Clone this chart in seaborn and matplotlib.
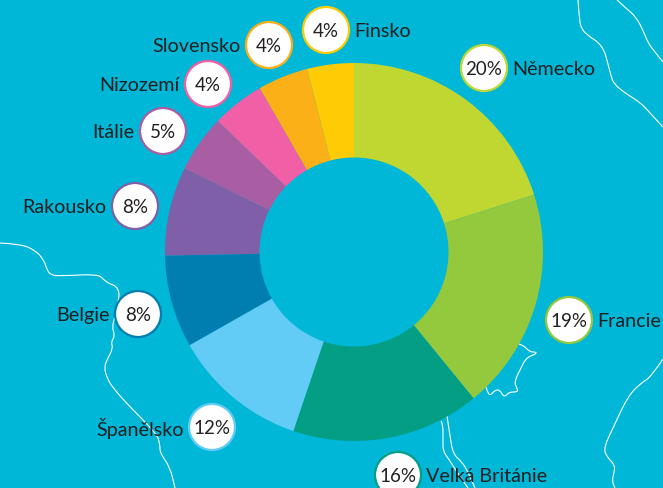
# plot.py - podil zemi, donut na mape
import matplotlib
matplotlib.use("Agg")
import matplotlib.pyplot as plt
from matplotlib.patches import PathPatch
from matplotlib.path import Path
import seaborn as sns

zeme = ["Německo", "Francie", "Velká Británie", "Španělsko", "Belgie",
        "Rakousko", "Itálie", "Nizozemí", "Slovensko", "Finsko"]
podil = [20.1, 19.0, 16.1, 11.6, 7.9, 7.6, 4.9, 4.5, 4.3, 4.0]
popisky = ["20%", "19%", "16%", "12%", "8%", "8%", "5%", "4%", "4%", "4%"]
barvy = ["#BFD730", "#94C83D", "#049E85", "#62CBF6", "#007EB0",
         "#7F5FA8", "#A95DA3", "#F15FA6", "#FBB017", "#FFCB05"]

# layout in pixels of the 663x488 picture (y from the top)
BG = "#00B7D7"
cx, cy, radius = 354, 252, 189
badge_x = [484, 569, 398, 212, 138, 135, 163, 208, 269, 326]
badge_y = [68, 320, 475, 427, 314, 206, 131, 84, 45, 30]
side = [1, 1, 1, -1, -1, -1, -1, -1, -1, 1]

# background map outlines, decoration only
hranice = [
    [(578, 0), (579, 15), (581, 29), (590, 37), (598, 42), (604, 50), (607, 60),
     (611, 76), (614, 84), (625, 93), (641, 103), (650, 113), (663, 127)],
    [(617, 0), (627, 9), (636, 17), (643, 30), (648, 43), (655, 52), (663, 62)],
    [(0, 243), (20, 244), (35, 250), (44, 260), (47, 270), (51, 275), (60, 276), (98, 274),
     (104, 280), (110, 284), (116, 286), (119, 292), (119, 297), (115, 317), (112, 327),
     (115, 336), (111, 342), (113, 348), (108, 358), (104, 367), (107, 378), (113, 388),
     (130, 407), (157, 434), (160, 445), (160, 453), (170, 467), (175, 488)],
    [(486, 387), (488, 394), (491, 395), (495, 390), (500, 390), (503, 396), (506, 396),
     (509, 392), (518, 392), (517, 388), (514, 382), (522, 366), (525, 360), (530, 356),
     (536, 354), (536, 352), (530, 352), (524, 346), (519, 344)],
    [(441, 421), (443, 424), (443, 440), (443, 451), (448, 458), (457, 472), (468, 488)],
    [(447, 416), (450, 436), (453, 454), (462, 462), (468, 472), (475, 488)],
    [(663, 359), (651, 377), (641, 383), (628, 396), (613, 428), (604, 447), (606, 456),
     (615, 465), (614, 473), (612, 481), (615, 488)],
]


def hladka_cesta(linie):
    # vertices act as control points, midpoints as nodes: rounds the corners
    body = [(x, 488 - y) for x, y in linie]
    verts, codes = [body[0]], [Path.MOVETO]
    for a, b in zip(body[1:-1], body[2:]):
        verts += [a, ((a[0] + b[0]) / 2, (a[1] + b[1]) / 2)]
        codes += [Path.CURVE3, Path.CURVE3]
    verts.append(body[-1])
    codes.append(Path.LINETO)
    return Path(verts, codes)


sns.set_theme(style="white")
plt.rcParams["font.family"] = ["Lato", "DejaVu Sans"]

fig = plt.figure(figsize=(6.63, 4.88), dpi=100, facecolor=BG)
ax = fig.add_axes([0, 0, 1, 1], facecolor=BG)

for linie in hranice:
    ax.add_patch(PathPatch(hladka_cesta(linie), fill=False, edgecolor="white",
                           lw=0.8, zorder=1))

ax.pie(podil, colors=barvy, startangle=90, counterclock=False,
       center=(cx, 488 - cy), radius=radius, frame=True,
       wedgeprops=dict(width=radius * 0.5, linewidth=0))

sns.scatterplot(x=badge_x, y=[488 - y for y in badge_y], s=1097, color="white",
                edgecolor=barvy, linewidth=1.6, legend=False, ax=ax, zorder=4)

for i, nazev in enumerate(zeme):
    ax.text(badge_x[i], 488 - badge_y[i], popisky[i], ha="center", va="center_baseline",
            fontsize=13.5, color="#231F20", zorder=5)
    ax.text(badge_x[i] + side[i] * 28.5, 488 - badge_y[i], nazev,
            ha="left" if side[i] > 0 else "right", va="center_baseline",
            fontsize=14.2, color="#231F20", zorder=5)

ax.set_xlim(0, 663)
ax.set_ylim(0, 488)
ax.set_aspect("equal")
ax.axis("off")

fig.savefig("out.png", dpi=100, facecolor=BG)
